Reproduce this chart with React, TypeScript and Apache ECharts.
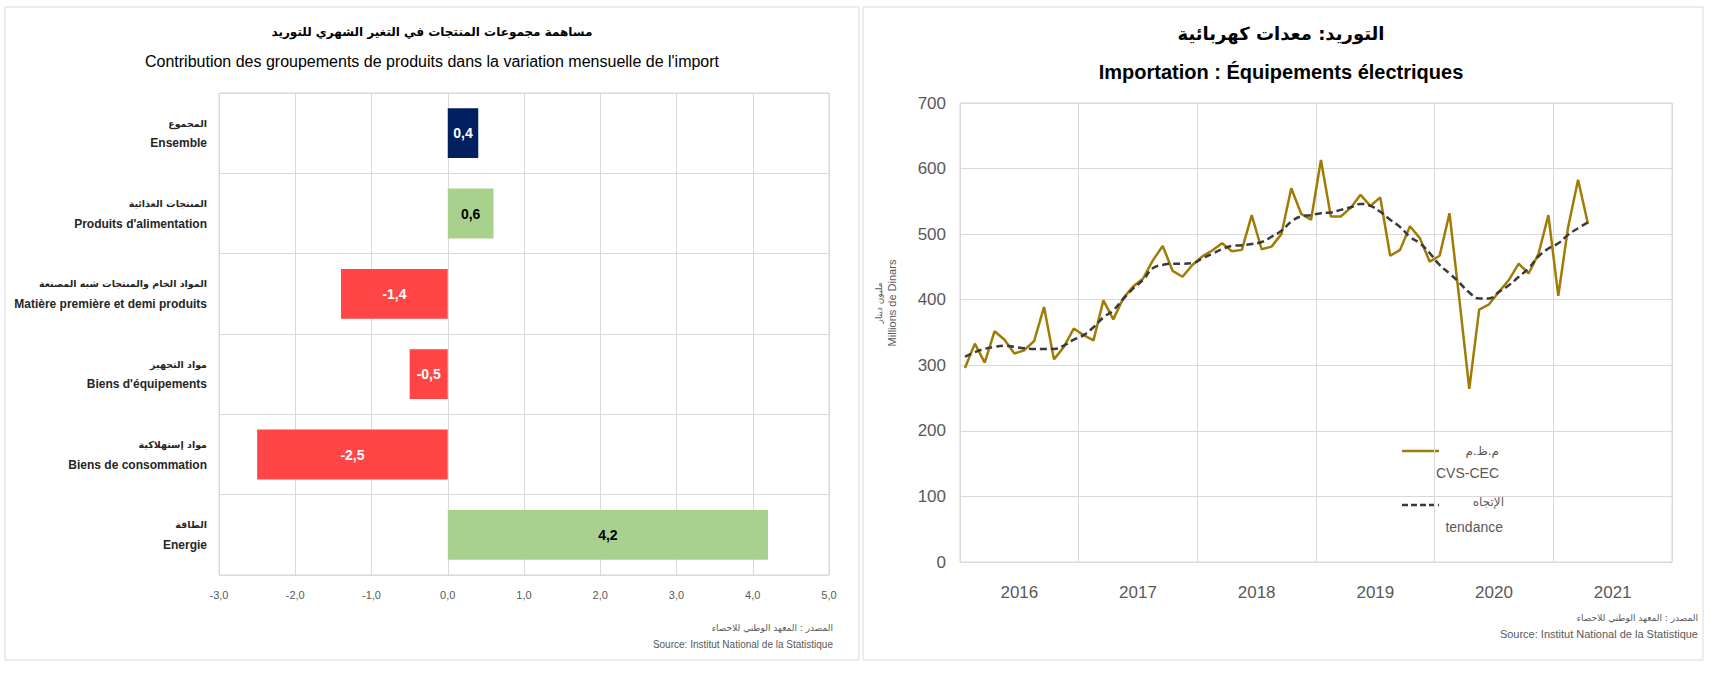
import React, { useEffect, useRef } from "react";
import * as echarts from "echarts";

// ---------- Left chart data ----------
const groupsAr = [
  "المجموع",
  "المنتجات الغذائية",
  "المواد الخام والمنتجات شبه المصنعة",
  "مواد التجهيز",
  "مواد إستهلاكية",
  "الطاقة",
];
const groupsFr = [
  "Ensemble",
  "Produits d'alimentation",
  "Matière première et demi produits",
  "Biens d'équipements",
  "Biens de consommation",
  "Energie",
];
const contributions = [0.4, 0.6, -1.4, -0.5, -2.5, 4.2];
const barColors = ["#002060", "#A9D18E", "#FF4545", "#FF4545", "#FF4545", "#A9D18E"];
const barLabelColors = ["#ffffff", "#000000", "#ffffff", "#ffffff", "#ffffff", "#000000"];

// ---------- Right chart data ----------
const years = ["2016", "2017", "2018", "2019", "2020", "2021"];
const monthNums = ["01", "02", "03", "04", "05", "06", "07", "08", "09", "10", "11", "12"];
const months = years.flatMap((y) => monthNums.map((m) => `${y}-${m}`));

const cvsCec = [
  296, 333, 304, 352, 339, 318, 323, 337, 389, 309, 328, 356,
  346, 338, 399, 370, 402, 420, 432, 460, 482, 444, 435, 453,
  466, 475, 486, 474, 476, 529, 477, 481, 500, 570, 531, 522,
  613, 527, 527, 540, 560, 543, 556, 467, 476, 512, 494, 458,
  467, 532, 400, 264, 385, 393, 412, 430, 455, 440, 470, 529,
  406, 511, 583, 516,
];
const tendance = [
  313, 320, 325, 328, 330, 328, 326, 325, 325, 325, 330, 339,
  346, 358, 373, 384, 401, 417, 430, 448, 453, 455, 455, 456,
  463, 470, 477, 482, 483, 485, 488, 496, 505, 519, 527, 529,
  532, 533, 537, 541, 546, 543, 534, 522, 511, 496, 486, 471,
  453, 440, 426, 411, 402, 402, 412, 422, 435, 448, 466, 478,
  486, 499, 509, 518,
];

const FONT = "'Liberation Sans', 'Open Sans', sans-serif";
const AR_FONT = "'DejaVu Sans', 'Noto Sans', sans-serif";
const GRID_COLOR = "#d9d9d9";
const GOLD = "#A07C06";

export default function App() {
  const ref = useRef<HTMLDivElement>(null);

  useEffect(() => {
    document.body.style.margin = "0";
    if (!ref.current) return;
    const chart = echarts.init(ref.current, undefined, { renderer: "svg" });

    const option: any = {
      animation: false,
      backgroundColor: "#ffffff",
      textStyle: { fontFamily: FONT },
      grid: [
        { left: 219, top: 93, width: 610, height: 482, show: true, borderColor: GRID_COLOR, borderWidth: 1 },
        { left: 960, top: 103, width: 712, height: 459, show: true, borderColor: GRID_COLOR, borderWidth: 1 },
      ],
      xAxis: [
        {
          gridIndex: 0,
          type: "value",
          min: -3,
          max: 5,
          interval: 1,
          axisLine: { show: false },
          axisTick: { show: false },
          splitLine: { show: true, lineStyle: { color: GRID_COLOR, width: 1 } },
          axisLabel: {
            margin: 14,
            color: "#595959",
            fontSize: 11,
            fontFamily: FONT,
            formatter: (v: number) => v.toFixed(1).replace(".", ","),
          },
        },
        {
          gridIndex: 1,
          type: "category",
          data: months,
          show: false,
        },
        {
          gridIndex: 1,
          type: "category",
          data: years,
          position: "bottom",
          axisLine: { show: false },
          axisTick: { show: false },
          splitLine: { show: true, lineStyle: { color: GRID_COLOR, width: 1 } },
          axisLabel: { margin: 22, color: "#595959", fontSize: 17, fontFamily: FONT },
        },
      ],
      yAxis: [
        {
          gridIndex: 0,
          type: "category",
          inverse: true,
          data: groupsFr,
          axisLine: { show: false },
          axisTick: { show: false },
          splitLine: { show: true, lineStyle: { color: GRID_COLOR, width: 1 } },
          axisLabel: {
            margin: 12,
            align: "right",
            formatter: (v: string) => {
              const i = groupsFr.indexOf(v);
              return `{ar|${groupsAr[i]}}\n{fr|${v}}`;
            },
            rich: {
              ar: { fontFamily: AR_FONT, fontWeight: "bold", fontSize: 9.5, color: "#262626", lineHeight: 20, align: "right" },
              fr: { fontFamily: FONT, fontWeight: "bold", fontSize: 12, color: "#262626", lineHeight: 20, align: "right" },
            },
          },
        },
        {
          gridIndex: 1,
          type: "value",
          min: 0,
          max: 700,
          interval: 100,
          axisLine: { show: false },
          axisTick: { show: false },
          splitLine: { show: true, lineStyle: { color: GRID_COLOR, width: 1 } },
          axisLabel: { margin: 14, color: "#595959", fontSize: 17, fontFamily: FONT },
        },
      ],
      series: [
        {
          type: "bar",
          xAxisIndex: 0,
          yAxisIndex: 0,
          barWidth: "62%",
          data: contributions.map((v, i) => ({
            value: v,
            itemStyle: { color: barColors[i] },
            label: { color: barLabelColors[i] },
          })),
          label: {
            show: true,
            position: "inside",
            fontWeight: "bold",
            fontSize: 14,
            fontFamily: FONT,
            formatter: (p: any) => Number(p.value).toFixed(1).replace(".", ","),
          },
        },
        {
          name: "CVS-CEC",
          type: "line",
          xAxisIndex: 1,
          yAxisIndex: 1,
          data: cvsCec,
          showSymbol: false,
          lineStyle: { color: GOLD, width: 2.5 },
          itemStyle: { color: GOLD },
        },
        {
          name: "tendance",
          type: "line",
          xAxisIndex: 1,
          yAxisIndex: 1,
          data: tendance,
          smooth: true,
          showSymbol: false,
          lineStyle: { color: "#3a3a3a", width: 2.5, type: [7, 4] },
          itemStyle: { color: "#3a3a3a" },
        },
      ],
      graphic: [
        // panel borders
        { type: "rect", shape: { x: 5, y: 7, width: 854, height: 653 }, style: { fill: "none", stroke: GRID_COLOR, lineWidth: 1 }, silent: true, z: -10 },
        { type: "rect", shape: { x: 863, y: 7, width: 840, height: 653 }, style: { fill: "none", stroke: GRID_COLOR, lineWidth: 1 }, silent: true, z: -10 },
        // left titles
        { type: "text", x: 432, y: 32, style: { text: "مساهمة مجموعات المنتجات في التغير الشهري للتوريد", font: `bold 12px ${AR_FONT}`, fill: "#000", textAlign: "center", textVerticalAlign: "middle" } },
        { type: "text", x: 432, y: 61, style: { text: "Contribution des groupements de produits dans la variation mensuelle de l'import", font: `16px ${FONT}`, fill: "#000", textAlign: "center", textVerticalAlign: "middle" } },
        // left source
        { type: "text", x: 833, y: 628, style: { text: "المصدر : المعهد الوطني للاحصاء", font: `9px ${AR_FONT}`, fill: "#595959", textAlign: "right", textVerticalAlign: "middle" } },
        { type: "text", x: 833, y: 644, style: { text: "Source: Institut National de la Statistique", font: `10px ${FONT}`, fill: "#595959", textAlign: "right", textVerticalAlign: "middle" } },
        // right titles
        { type: "text", x: 1281, y: 33, style: { text: "التوريد: معدات كهربائية", font: `bold 18px ${AR_FONT}`, fill: "#000", textAlign: "center", textVerticalAlign: "middle" } },
        { type: "text", x: 1281, y: 72, style: { text: "Importation : Équipements électriques", font: `bold 20px ${FONT}`, fill: "#000", textAlign: "center", textVerticalAlign: "middle" } },
        // right y-axis name
        { type: "text", x: 879, y: 303, rotation: Math.PI / 2, style: { text: "مليون دينار", font: `9px ${AR_FONT}`, fill: "#595959", textAlign: "center", textVerticalAlign: "middle" } },
        { type: "text", x: 892, y: 303, rotation: Math.PI / 2, style: { text: "Millions de Dinars", font: `11px ${FONT}`, fill: "#595959", textAlign: "center", textVerticalAlign: "middle" } },
        // right legend
        { type: "line", shape: { x1: 1402, y1: 451, x2: 1439, y2: 451 }, style: { stroke: GOLD, lineWidth: 2.5 } },
        { type: "text", x: 1499, y: 451, style: { text: "م.ظ.م", font: `12px ${AR_FONT}`, fill: "#595959", textAlign: "right", textVerticalAlign: "middle" } },
        { type: "text", x: 1499, y: 473, style: { text: "CVS-CEC", font: `14px ${FONT}`, fill: "#595959", textAlign: "right", textVerticalAlign: "middle" } },
        { type: "line", shape: { x1: 1402, y1: 505, x2: 1439, y2: 505 }, style: { stroke: "#3a3a3a", lineWidth: 2.5, lineDash: [6, 3] } },
        { type: "text", x: 1504, y: 502, style: { text: "الإتجاه", font: `12px ${AR_FONT}`, fill: "#595959", textAlign: "right", textVerticalAlign: "middle" } },
        { type: "text", x: 1503, y: 527, style: { text: "tendance", font: `14px ${FONT}`, fill: "#595959", textAlign: "right", textVerticalAlign: "middle" } },
        // right source
        { type: "text", x: 1698, y: 618, style: { text: "المصدر : المعهد الوطني للاحصاء", font: `9px ${AR_FONT}`, fill: "#595959", textAlign: "right", textVerticalAlign: "middle" } },
        { type: "text", x: 1698, y: 634, style: { text: "Source: Institut National de la Statistique", font: `11px ${FONT}`, fill: "#595959", textAlign: "right", textVerticalAlign: "middle" } },
      ],
    };

    chart.setOption(option);
    return () => chart.dispose();
  }, []);

  return <div ref={ref} style={{ width: 1711, height: 674 }} />;
}
